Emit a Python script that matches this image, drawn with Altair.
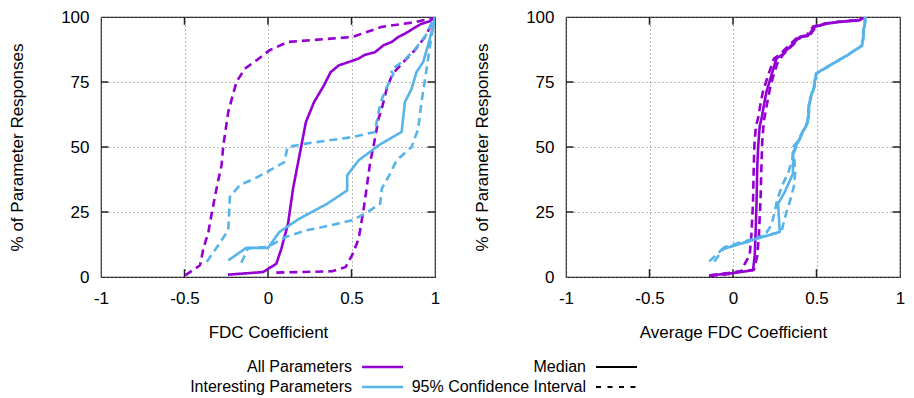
import altair as alt
import pandas as pd

PURPLE = "#9400D3"
BLUE = "#56B4E9"
FONT = "Liberation Sans"

# ---------------- Left panel: FDC Coefficient ----------------
L_all_med_x = [-0.24, -0.03, 0.05, 0.08, 0.12, 0.15, 0.20, 0.227, 0.276, 0.335, 0.375, 0.424, 0.484, 0.543, 0.582, 0.642, 0.691, 0.741, 0.78, 0.82, 0.869, 0.919, 0.968, 1.0]
L_all_med_y = [0.9, 1.9, 5.1, 10.9, 20.5, 34, 50.6, 59.6, 67.3, 73.7, 78.8, 81.4, 82.7, 84, 85.5, 86.5, 89.1, 90.4, 92.3, 93.6, 95.5, 97.4, 98.3, 100]

L_all_lo_x = [-0.496, -0.407, -0.387, -0.357, -0.337, -0.318, -0.298, -0.278, -0.268, -0.238, -0.189, -0.139, -0.07, 0.009, 0.117, 0.503, 0.681, 0.879, 0.988, 1.0]
L_all_lo_y = [0.6, 4.5, 10.9, 17.3, 24.4, 30.8, 37.2, 43.0, 50.3, 63.5, 75, 80.1, 83.3, 87.2, 90.4, 92.3, 96.2, 98.0, 99.6, 100]

L_all_hi_x = [0.05, 0.187, 0.385, 0.464, 0.503, 0.543, 0.573, 0.593, 0.612, 0.632, 0.662, 0.681, 0.711, 0.745, 0.82, 0.879, 0.948, 0.988, 1.0]
L_all_hi_y = [1.7, 1.9, 2.2, 3.8, 8.3, 14.7, 26.3, 35.3, 44.2, 50.3, 60.9, 64.7, 72.4, 78.0, 83.3, 87.2, 93.0, 98.7, 100]

L_int_med_x = [-0.238, -0.13, 0.0, 0.068, 0.187, 0.355, 0.474, 0.474, 0.543, 0.662, 0.80, 0.82, 0.86, 0.889, 0.929, 0.958, 0.998, 1.0]
L_int_med_y = [6.4, 11.2, 11.2, 17.3, 22.4, 28.2, 33.3, 39.1, 44.9, 50.6, 55.8, 67.3, 72.4, 78.8, 82.7, 89.1, 98.7, 100]

L_int_lo_x = [-0.367, -0.298, -0.238, -0.228, -0.169, -0.06, 0.098, 0.117, 0.227, 0.503, 0.642, 0.652, 0.672, 0.701, 0.751, 0.735, 0.82, 0.879, 0.948, 0.99, 1.0]
L_int_lo_y = [5.8, 12.2, 18.0, 30.8, 35.3, 38.5, 44.2, 50.0, 51.3, 53.8, 55.8, 60.1, 66.5, 71.7, 78.0, 79.5, 83.6, 87.5, 93.3, 99.0, 100]

L_int_hi_x = [-0.16, -0.12, 0.0, 0.107, 0.227, 0.326, 0.503, 0.582, 0.672, 0.681, 0.731, 0.770, 0.860, 0.899, 0.919, 0.948, 0.978, 0.995, 1.0]
L_int_hi_y = [5.5, 11.0, 11.6, 15.4, 17.9, 19.2, 21.8, 24.4, 28.2, 34.0, 39.7, 44.9, 50.0, 56.9, 67.2, 79.4, 92.2, 99.0, 100]

# ---------------- Right panel: Average FDC Coefficient ----------------
R_all_med_x = [-0.142, 0.0, 0.12, 0.13, 0.135, 0.141, 0.145, 0.151, 0.16, 0.171, 0.185, 0.20, 0.23, 0.26, 0.29, 0.32, 0.359, 0.399, 0.448, 0.488, 0.557, 0.636, 0.755, 0.79]
R_all_med_y = [0.6, 1.5, 2.6, 8.3, 16, 28.8, 41.7, 50.6, 58, 60.9, 66, 71.2, 77.6, 84, 85.3, 87.2, 89.7, 92.3, 92.7, 96.2, 97.4, 98.1, 98.7, 100]

R_all_lo_x = [-0.142, -0.02, 0.05, 0.07, 0.10, 0.11, 0.12, 0.124, 0.128, 0.137, 0.15, 0.163, 0.178, 0.21, 0.245, 0.28, 0.31, 0.35, 0.39, 0.44, 0.48, 0.55, 0.63, 0.75, 0.79]
R_all_lo_y = [0.4, 1.2, 2.3, 5.0, 8.5, 16, 28.8, 41.7, 50.6, 58, 61, 66, 71, 77.5, 84, 85.5, 87.5, 90, 92.3, 92.9, 96.3, 97.5, 98.2, 98.8, 100]

R_all_hi_x = [-0.142, 0.0, 0.125, 0.145, 0.155, 0.165, 0.17, 0.175, 0.185, 0.205, 0.22, 0.24, 0.27, 0.30, 0.33, 0.37, 0.41, 0.46, 0.50, 0.57, 0.65, 0.76, 0.79]
R_all_hi_y = [0.6, 1.8, 2.8, 8, 16, 30, 42, 52, 60, 67, 72, 77, 83, 85.5, 87.5, 90, 92.5, 93, 96.5, 97.6, 98.3, 98.9, 100]

R_int_med_x = [-0.07, 0.131, 0.28, 0.27, 0.31, 0.359, 0.36, 0.389, 0.408, 0.448, 0.458, 0.488, 0.497, 0.596, 0.685, 0.774, 0.784, 0.794, 0.794]
R_int_med_y = [10.5, 14.5, 17.3, 28.2, 32.7, 39.7, 48, 51.9, 54.5, 59.6, 67.3, 73.7, 78.2, 82, 85.3, 89.1, 95.5, 99.4, 100]

R_int_lo_x = [-0.142, -0.06, 0.12, 0.20, 0.23, 0.25, 0.265, 0.30, 0.33, 0.355, 0.36, 0.385, 0.405, 0.445, 0.455, 0.485, 0.495, 0.594, 0.683, 0.772, 0.782, 0.79]
R_int_lo_y = [6, 11, 14, 17, 20, 25, 30, 36, 40, 45, 50, 52, 54.5, 59.6, 67.3, 73.7, 78.2, 82, 85.3, 89.1, 95.5, 100]

R_int_hi_x = [-0.112, -0.05, 0.14, 0.29, 0.30, 0.32, 0.345, 0.365, 0.372, 0.365, 0.393, 0.41, 0.45, 0.46, 0.49, 0.50, 0.598, 0.687, 0.776, 0.786, 0.796]
R_int_hi_y = [6, 11.5, 15, 17.5, 20, 25, 30, 35, 40, 48, 52, 54.5, 59.6, 67.3, 73.7, 78.2, 82, 85.3, 89.1, 95.5, 100]

X_TICKS = [-1, -0.5, 0, 0.5, 1]
Y_TICKS = [0, 25, 50, 75, 100]
GROUPS = ["All Parameters", "Interesting Parameters"]
STATS = ["Median", "95% Confidence Interval"]

PW, PH = 334, 260


def series(group, stat, key, xs, ys):
    return pd.DataFrame({"x": xs, "y": ys, "group": group, "stat": stat,
                         "key": key, "i": list(range(len(xs)))})


def panel(data, xtitle):
    xs = alt.Scale(domain=[-1, 1], nice=False, zero=False)
    ys = alt.Scale(domain=[0, 100], nice=False, zero=False)
    xaxis = alt.Axis(values=X_TICKS, title=xtitle, labelExpr="'' + datum.value",
                     domain=False, ticks=False, grid=True, gridDash=[1, 3],
                     gridColor="#777", gridWidth=1, labelPadding=13,
                     titlePadding=18, labelFlush=False)
    yaxis = alt.Axis(values=Y_TICKS, title="% of Parameter Responses",
                     labelExpr="'' + datum.value", domain=False, ticks=False,
                     grid=True, gridDash=[1, 3], gridColor="#777", gridWidth=1,
                     labelPadding=12, titlePadding=34)
    layers = []
    base = alt.Chart(pd.DataFrame({"x": [-1], "y": [0]})).mark_point(opacity=0).encode(
        x=alt.X("x:Q", scale=xs, axis=xaxis), y=alt.Y("y:Q", scale=ys, axis=yaxis))
    layers.append(base)
    # inner mirrored ticks
    tx = pd.DataFrame({"x": [-0.5, 0, 0.5] * 2, "y": [0] * 3 + [100] * 3,
                       "y2": [3.0] * 3 + [97.0] * 3})
    ty = pd.DataFrame({"y": [25, 50, 75] * 2, "x": [-1] * 3 + [1] * 3,
                       "x2": [-0.955] * 3 + [0.955] * 3})
    layers.append(alt.Chart(tx).mark_rule(color="#222", strokeWidth=1.5).encode(
        x=alt.X("x:Q", scale=xs), y=alt.Y("y:Q", scale=ys), y2="y2:Q"))
    layers.append(alt.Chart(ty).mark_rule(color="#222", strokeWidth=1.5).encode(
        y=alt.Y("y:Q", scale=ys), x=alt.X("x:Q", scale=xs), x2="x2:Q"))
    for g, col in zip(GROUPS, [PURPLE, BLUE]):
        sub = data[data["group"] == g]
        layers.append(alt.Chart(sub).mark_line(strokeWidth=2.6, color=col, clip=True,
                                               strokeJoin="round").encode(
            x=alt.X("x:Q", scale=xs),
            y=alt.Y("y:Q", scale=ys),
            strokeDash=alt.StrokeDash("stat:N", scale=alt.Scale(domain=STATS, range=[[1, 0], [8, 5]]), legend=None),
            detail="key:N",
            order="i:Q",
        ))
    return alt.layer(*layers).properties(
        width=PW, height=PH,
        view=alt.ViewBackground(stroke="#222", strokeWidth=1.2))


left_df = pd.concat([
    series(GROUPS[0], STATS[1], "a_lo", L_all_lo_x, L_all_lo_y),
    series(GROUPS[0], STATS[1], "a_hi", L_all_hi_x, L_all_hi_y),
    series(GROUPS[0], STATS[0], "a_med", L_all_med_x, L_all_med_y),
    series(GROUPS[1], STATS[1], "i_lo", L_int_lo_x, L_int_lo_y),
    series(GROUPS[1], STATS[1], "i_hi", L_int_hi_x, L_int_hi_y),
    series(GROUPS[1], STATS[0], "i_med", L_int_med_x, L_int_med_y),
])
right_df = pd.concat([
    series(GROUPS[0], STATS[1], "a_lo", R_all_lo_x, R_all_lo_y),
    series(GROUPS[0], STATS[1], "a_hi", R_all_hi_x, R_all_hi_y),
    series(GROUPS[0], STATS[0], "a_med", R_all_med_x, R_all_med_y),
    series(GROUPS[1], STATS[1], "i_lo", R_int_lo_x, R_int_lo_y),
    series(GROUPS[1], STATS[1], "i_hi", R_int_hi_x, R_int_hi_y),
    series(GROUPS[1], STATS[0], "i_med", R_int_med_x, R_int_med_y),
])

left = panel(left_df, "FDC Coefficient")
right = panel(right_df, "Average FDC Coefficient")
panels = alt.hconcat(left, right, spacing=32)

# ---------------- custom legend (x relative to left plot area) ----------------
leg_rows = [21, 41]
leg_layers = []
for label, col, row in [(GROUPS[0], PURPLE, 0), (GROUPS[1], BLUE, 1)]:
    leg_layers.append(alt.Chart(pd.DataFrame({"t": [label]})).mark_text(
        align="right", baseline="middle", font=FONT, fontSize=16, color="#000").encode(
        text="t:N", x=alt.value(251), y=alt.value(leg_rows[row])))
    leg_layers.append(alt.Chart(pd.DataFrame({"t": [label]})).mark_rule(
        color=col, strokeWidth=2.6).encode(
        x=alt.value(261), x2=alt.value(302), y=alt.value(leg_rows[row])))
for label, dash, row in [(STATS[0], [1, 0], 0), (STATS[1], [5, 6.5], 1)]:
    leg_layers.append(alt.Chart(pd.DataFrame({"t": [label]})).mark_text(
        align="right", baseline="middle", font=FONT, fontSize=16, color="#000").encode(
        text="t:N", x=alt.value(485), y=alt.value(leg_rows[row])))
    leg_layers.append(alt.Chart(pd.DataFrame({"t": [label]})).mark_rule(
        color="#000", strokeWidth=2.2, strokeDash=dash).encode(
        x=alt.value(495), x2=alt.value(536), y=alt.value(leg_rows[row])))
legend = alt.layer(*leg_layers).properties(
    width=700, height=45, view=alt.ViewBackground(stroke="transparent"))

chart = alt.vconcat(panels, legend, spacing=4).properties(
    padding={"left": 0, "top": -1, "right": 0, "bottom": -1}
).configure_view(
    stroke="transparent"
).configure_axis(
    labelFont=FONT, titleFont=FONT, labelFontSize=17, titleFontSize=17,
    labelColor="#000", titleColor="#000", titleFontWeight="normal"
)

chart.save("out.html", embed_options={"renderer": "svg", "actions": False})
